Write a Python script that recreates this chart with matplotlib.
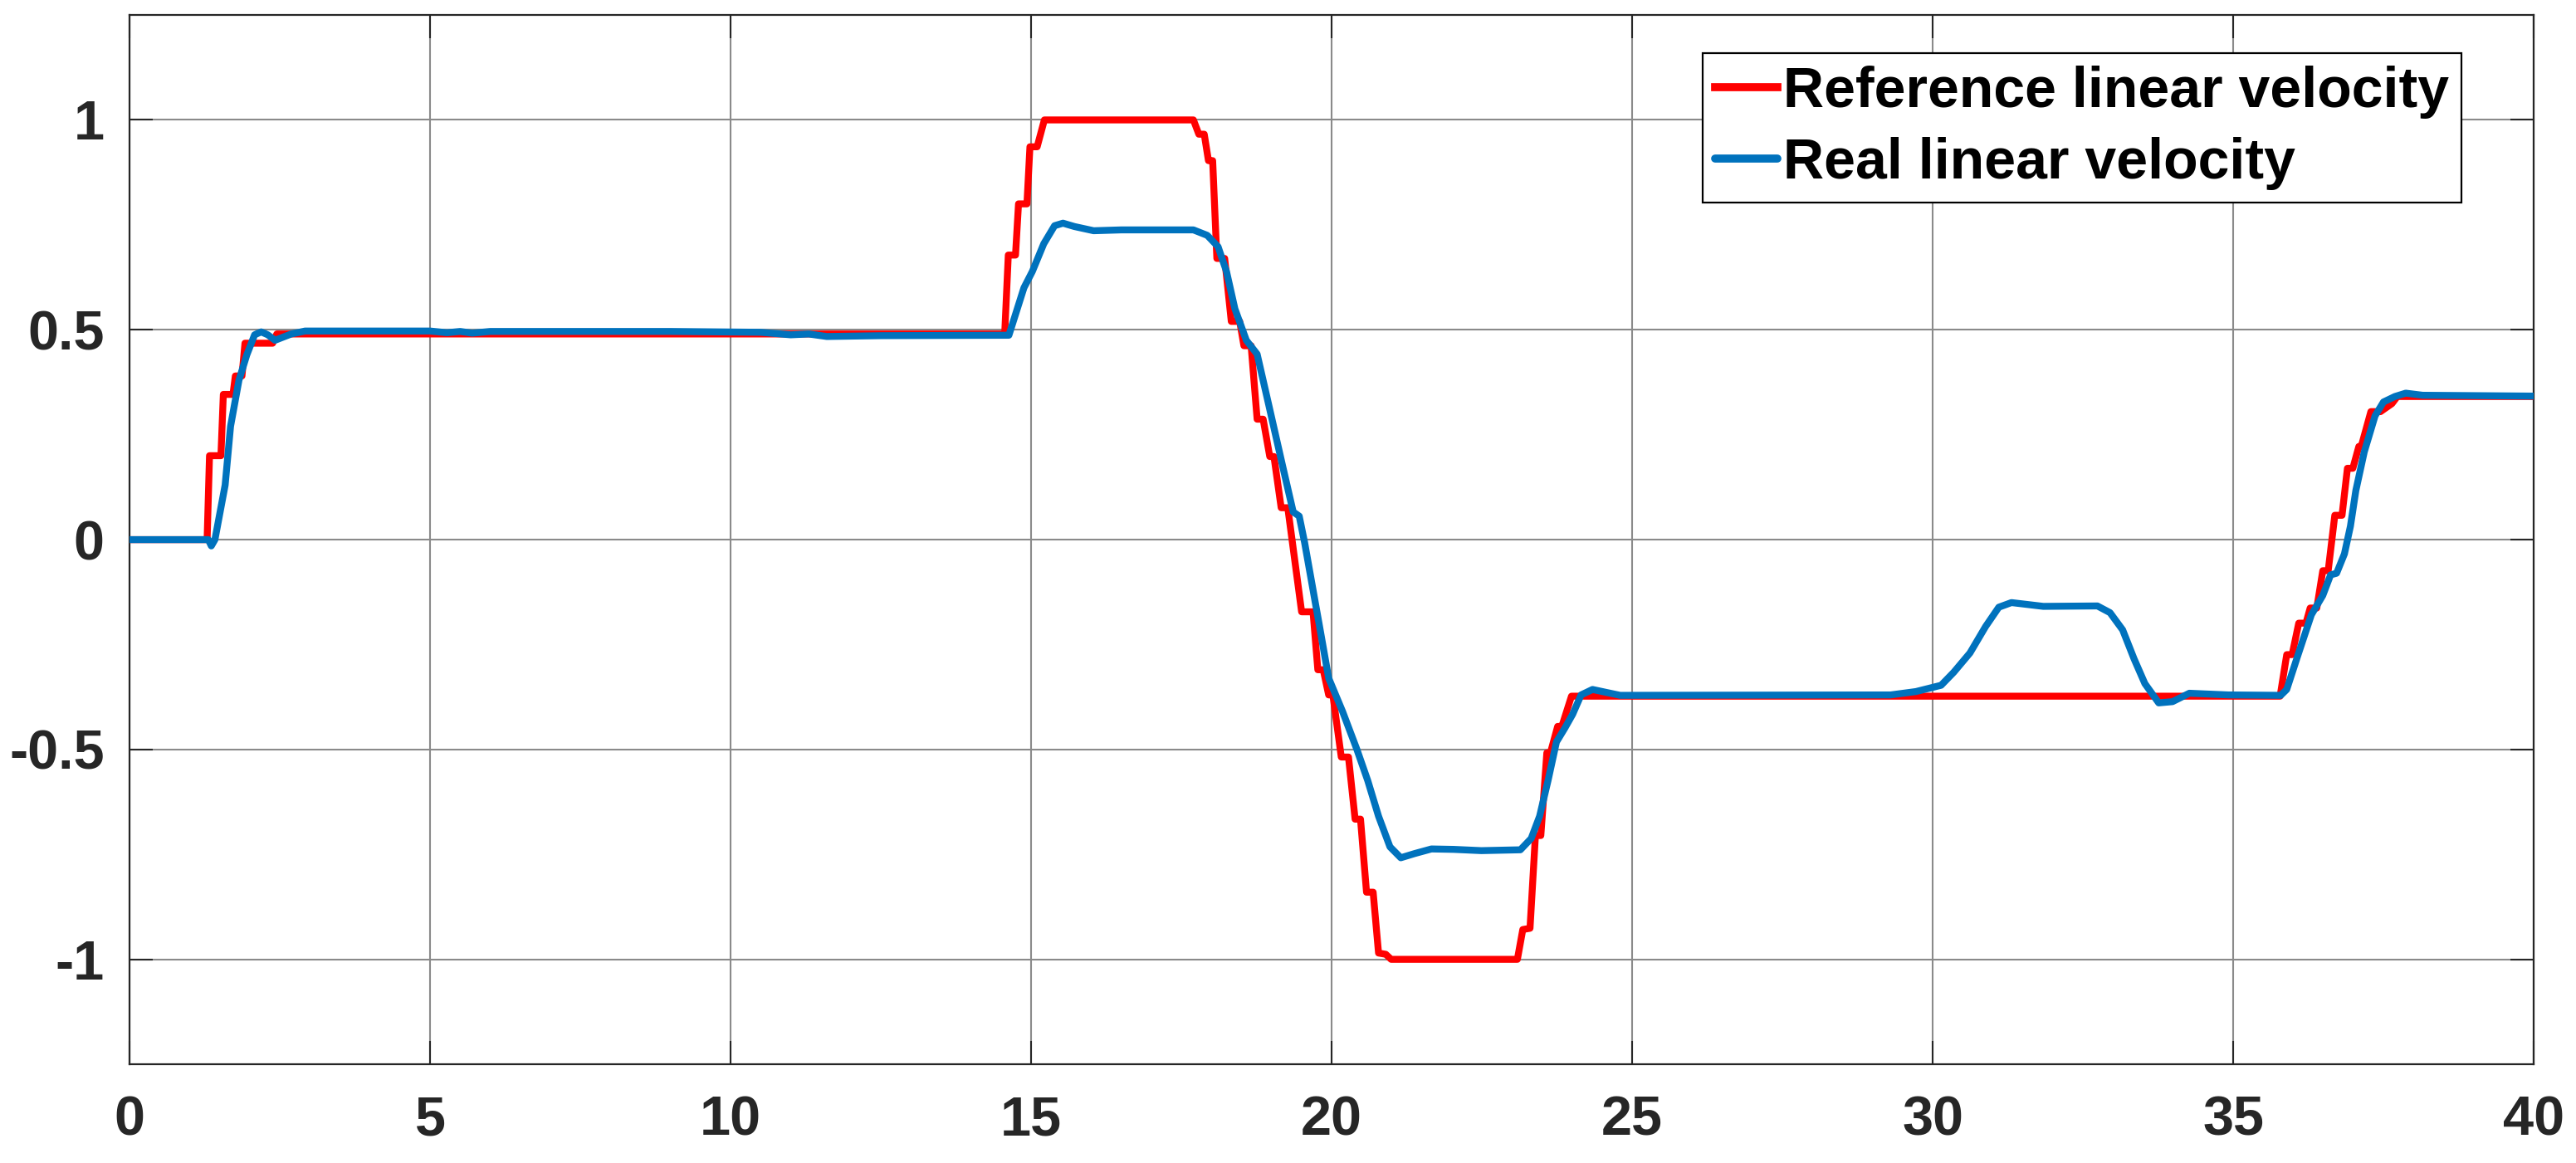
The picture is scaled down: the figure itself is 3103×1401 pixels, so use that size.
import matplotlib
matplotlib.use("Agg")
import matplotlib.pyplot as plt

# Reference linear velocity (staircase ramp)
ref_t = [0, 1.29, 1.33, 1.52, 1.56, 1.72, 1.76, 1.87, 1.92, 2.38, 2.45,
         14.56, 14.62, 14.74, 14.79, 14.93, 14.98, 15.10, 15.22, 17.70,
         17.79, 17.88, 17.95, 18.02, 18.09, 18.22, 18.33, 18.47, 18.54,
         18.66, 18.76, 18.86, 18.97, 19.04, 19.16, 19.27, 19.50, 19.69,
         19.77, 19.86, 19.95, 20.02, 20.16, 20.28, 20.39, 20.48, 20.58,
         20.69, 20.78, 20.90, 20.99, 23.09, 23.18, 23.30, 23.39, 23.48,
         23.58, 23.64, 23.76, 23.83, 23.99, 35.78, 35.89, 35.98, 36.09,
         36.21, 36.28, 36.39, 36.49, 36.58, 36.69, 36.81, 36.90, 36.99,
         37.09, 37.13, 37.29, 37.45, 37.64, 37.73, 40.0]
ref_v = [0, 0, 0.2, 0.2, 0.346, 0.346, 0.39, 0.39, 0.468, 0.468, 0.49,
         0.49, 0.678, 0.678, 0.80, 0.80, 0.936, 0.936, 1.0, 1.0,
         0.966, 0.966, 0.903, 0.903, 0.67, 0.67, 0.52, 0.52, 0.462,
         0.462, 0.287, 0.287, 0.198, 0.198, 0.076, 0.076, -0.172, -0.172,
         -0.31, -0.31, -0.37, -0.37, -0.518, -0.518, -0.666, -0.666, -0.84,
         -0.84, -0.985, -0.988, -1.0, -1.0, -0.929, -0.926, -0.705, -0.705,
         -0.508, -0.508, -0.445, -0.445, -0.373, -0.373, -0.274, -0.274, -0.199,
         -0.199, -0.163, -0.163, -0.074, -0.074, 0.058, 0.058, 0.17, 0.17,
         0.222, 0.222, 0.305, 0.305, 0.324, 0.341, 0.341]

# Real linear velocity
real_t = [0, 1.31, 1.36, 1.42, 1.59, 1.68, 1.82, 1.95, 2.08, 2.19, 2.30,
          2.42, 2.69, 2.92, 5.0, 5.28, 5.5, 5.7, 6.0, 9.0, 10.5, 11.0,
          11.3, 11.6, 12.5, 14.63, 14.88, 15.02, 15.21, 15.39, 15.53,
          15.72, 16.04, 16.5, 17.70, 17.93, 18.11, 18.25, 18.39, 18.58,
          18.76, 18.95, 19.18, 19.36, 19.46, 19.55, 19.73, 19.79, 19.95,
          20.18, 20.42, 20.60, 20.78, 20.97, 21.15, 21.38, 21.66, 22.03,
          22.49, 23.14, 23.32, 23.46, 23.60, 23.74, 23.88, 24.01, 24.15,
          24.34, 24.57, 24.80, 29.3, 29.72, 30.14, 30.35, 30.62, 30.88,
          31.10, 31.31, 31.84, 32.74, 32.95, 33.16, 33.35, 33.53, 33.76,
          33.99, 34.27, 34.92, 35.79, 35.89, 36.07, 36.30, 36.49, 36.62,
          36.72, 36.85, 36.95, 37.04, 37.18, 37.36, 37.50, 37.69, 37.87,
          38.15, 40.0]
real_v = [0, 0, -0.015, 0.0, 0.13, 0.27, 0.38, 0.44, 0.488, 0.495, 0.488,
          0.475, 0.49, 0.497, 0.497, 0.493, 0.496, 0.492, 0.496, 0.496, 0.494, 0.488,
          0.490, 0.484, 0.486, 0.487, 0.6, 0.639, 0.705, 0.748, 0.754,
          0.746, 0.736, 0.738, 0.738, 0.725, 0.698, 0.639, 0.55, 0.475,
          0.442, 0.323, 0.178, 0.066, 0.056, -0.007, -0.152, -0.2, -0.33,
          -0.409, -0.5, -0.574, -0.659, -0.732, -0.758, -0.748, -0.737, -0.738,
          -0.741, -0.739, -0.712, -0.659, -0.574, -0.482, -0.449, -0.416, -0.37,
          -0.357, -0.364, -0.371, -0.37, -0.362, -0.347, -0.316, -0.27, -0.207,
          -0.161, -0.15, -0.159, -0.158, -0.174, -0.215, -0.284, -0.343, -0.389,
          -0.386, -0.366, -0.37, -0.371, -0.357, -0.278, -0.179, -0.133, -0.084,
          -0.08, -0.034, 0.032, 0.117, 0.209, 0.295, 0.328, 0.341, 0.349,
          0.344, 0.342]

xticks = [0, 5, 10, 15, 20, 25, 30, 35, 40]
yticks = [-1, -0.5, 0, 0.5, 1]
ytick_labels = ["-1", "-0.5", "0", "0.5", "1"]

plt.rcParams["font.family"] = ["Liberation Sans Narrow", "Liberation Sans", "DejaVu Sans"]
plt.rcParams["font.weight"] = "bold"

fig = plt.figure(figsize=(31.03, 14.01), dpi=100)
ax = fig.add_axes([0.0503, 0.0849, 0.9333, 0.9022])

ax.plot(ref_t, ref_v, color="#FF0000", lw=6, solid_joinstyle="round",
        label="Reference linear velocity", zorder=3)
ax.plot(real_t, real_v, color="#0072BD", lw=6, solid_joinstyle="round",
        solid_capstyle="round", label="Real linear velocity", zorder=4)

ax.set_xlim(0, 40)
ax.set_ylim(-1.25, 1.25)
ax.set_xticks(xticks)
ax.set_xticklabels([str(t) for t in xticks])
ax.set_yticks(yticks)
ax.set_yticklabels(ytick_labels)

ax.grid(True, color="#8a8a8a", lw=1.5)
ax.set_axisbelow(True)
for s in ax.spines.values():
    s.set_linewidth(1.6)
    s.set_color("#262626")

ax.tick_params(direction="in", length=20, width=1.5, top=True, right=True,
               labelsize=48, colors="#262626")
ax.tick_params(axis="x", pad=27)
ax.tick_params(axis="y", pad=22)
for lab in ax.get_xticklabels() + ax.get_yticklabels():
    lab.set_fontweight("bold")

leg = ax.legend(loc="upper right", bbox_to_anchor=(0.970, 0.9636),
                borderaxespad=0, frameon=True, fancybox=False,
                framealpha=1, edgecolor="black", handlelength=1.1,
                handletextpad=0.1, borderpad=0.22, labelspacing=0.32,
                prop={"weight": "bold", "size": 49})
leg.get_frame().set_linewidth(1.6)
for h in leg.get_lines():
    h.set_linewidth(7)

fig.savefig("out.png", dpi=100)
